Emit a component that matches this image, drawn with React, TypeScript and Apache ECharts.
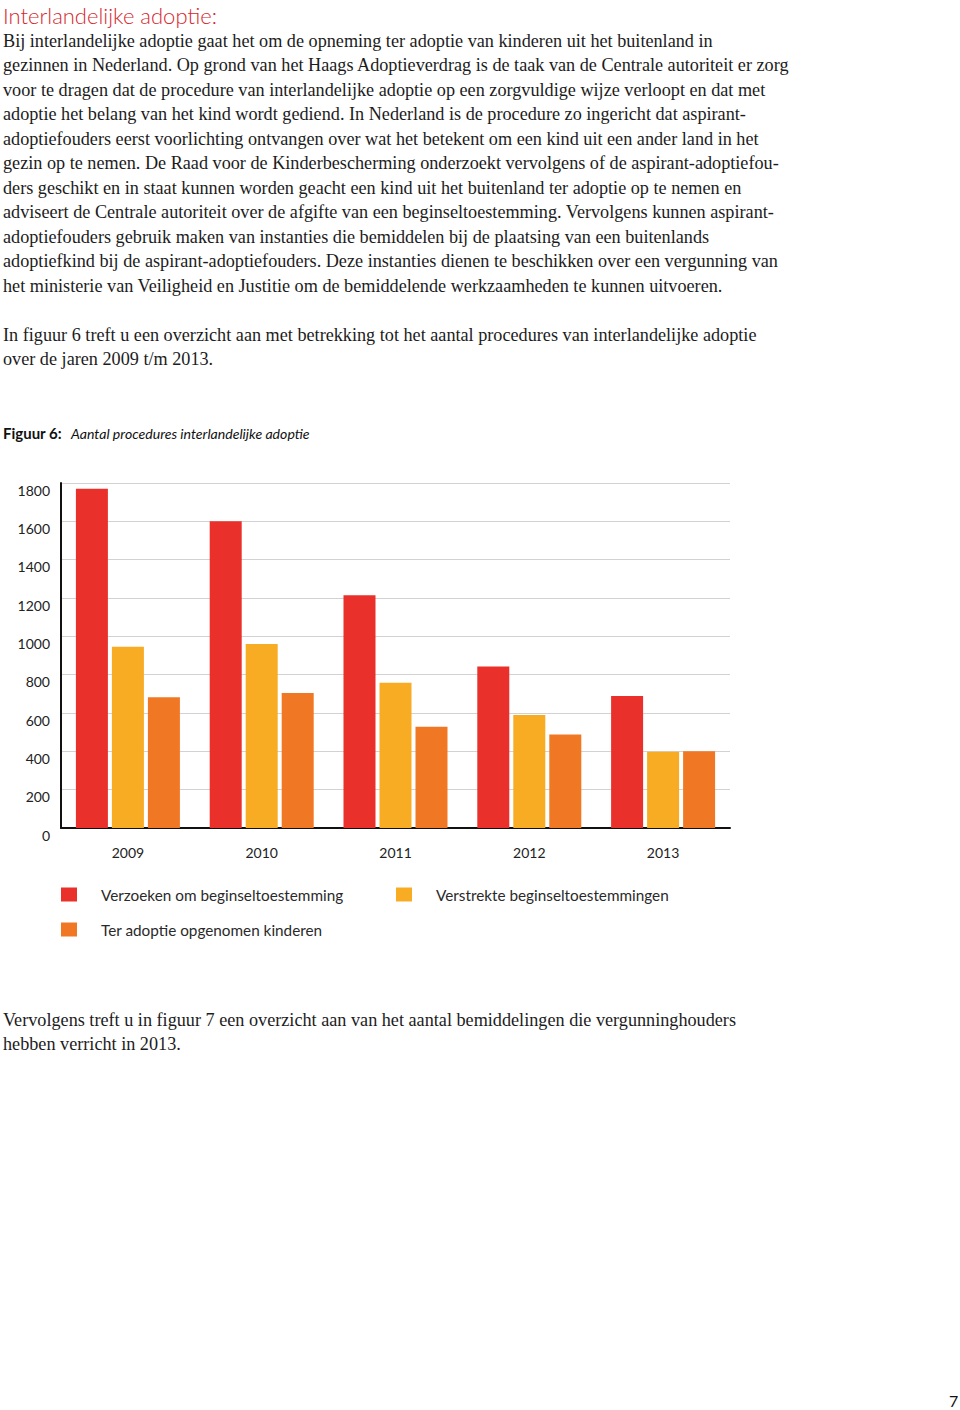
import React, { useEffect, useRef } from "react";
import * as echarts from "echarts";

const years = ["2009", "2010", "2011", "2012", "2013"];
const requests = [1770, 1600, 1215, 842, 689];
const granted = [946, 960, 758, 590, 398];
const adopted = [682, 705, 528, 488, 401];
const seriesNames = [
  "Verzoeken om beginseltoestemming",
  "Verstrekte beginseltoestemmingen",
  "Ter adoptie opgenomen kinderen",
];
const yTicks = [0, 200, 400, 600, 800, 1000, 1200, 1400, 1600, 1800];

const title = "Interlandelijke adoptie:";
const para1 = [
  "Bij interlandelijke adoptie gaat het om de opneming ter adoptie van kinderen uit het buitenland in",
  "gezinnen in Nederland. Op grond van het Haags Adoptieverdrag is de taak van de Centrale autoriteit er zorg",
  "voor te dragen dat de procedure van interlandelijke adoptie op een zorgvuldige wijze verloopt en dat met",
  "adoptie het belang van het kind wordt gediend. In Nederland is de procedure zo ingericht dat aspirant-",
  "adoptiefouders eerst voorlichting ontvangen over wat het betekent om een kind uit een ander land in het",
  "gezin op te nemen. De Raad voor de Kinderbescherming onderzoekt vervolgens of de aspirant-adoptiefou-",
  "ders geschikt en in staat kunnen worden geacht een kind uit het buitenland ter adoptie op te nemen en",
  "adviseert de Centrale autoriteit over de afgifte van een beginseltoestemming. Vervolgens kunnen aspirant-",
  "adoptiefouders gebruik maken van instanties die bemiddelen bij de plaatsing van een buitenlands",
  "adoptiefkind bij de aspirant-adoptiefouders. Deze instanties dienen te beschikken over een vergunning van",
  "het ministerie van Veiligheid en Justitie om de bemiddelende werkzaamheden te kunnen uitvoeren.",
];
const para2 = [
  "In figuur 6 treft u een overzicht aan met betrekking tot het aantal procedures van interlandelijke adoptie",
  "over de jaren 2009 t/m 2013.",
];
const para3 = [
  "Vervolgens treft u in figuur 7 een overzicht aan van het aantal bemiddelingen die vergunninghouders",
  "hebben verricht in 2013.",
];
const figLabel = "Figuur 6:";
const figCaption = "Aantal procedures interlandelijke adoptie";
const pageNumber = "7";

const RED = "#e9302a";
const YELLOW = "#f8ac24";
const ORANGE = "#f07724";
const SERIF = '"Liberation Serif", serif';
const SANS = 'Lato, "Noto Sans", sans-serif';

function textLines(lines: string[], x: number, y0: number, step: number, font: string) {
  return lines.map((t, i) => ({
    type: "text",
    x,
    y: y0 + i * step,
    silent: true,
    style: {
      text: t,
      font,
      fill: "#1c1c1c",
      textVerticalAlign: "middle",
      verticalAlign: "middle",
    },
  }));
}

export default function App() {
  const ref = useRef<HTMLDivElement>(null);
  useEffect(() => {
    if (!ref.current) return;
    const chart = echarts.init(ref.current, null, { renderer: "svg" });
    const bodyFont = `18.2px ${SERIF}`;
    const option: any = {
      animation: false,
      backgroundColor: "#ffffff",
      grid: { left: 61, right: 230, top: 483, bottom: 582, containLabel: false },
      xAxis: {
        type: "category",
        data: years,
        axisLine: { lineStyle: { color: "#111", width: 2 } },
        axisTick: { show: false },
        axisLabel: { color: "#222", fontFamily: SANS, fontSize: 14, margin: 17 },
      },
      yAxis: {
        type: "value",
        min: 0,
        max: 1800,
        interval: 200,
        axisLine: { show: true, lineStyle: { color: "#111", width: 2 } },
        axisTick: { show: false },
        splitLine: { lineStyle: { color: "#d2d2d2", width: 1 } },
        axisLabel: {
          color: "#222",
          fontFamily: SANS,
          fontSize: 14,
          margin: 11,
          verticalAlign: "top",
          lineHeight: 14,
          formatter: (v: number) => (yTicks.includes(v) ? String(v) : ""),
        },
      },
      legend: [0, 1, 2].map((i) => ({
        data: [seriesNames[i]],
        left: i === 1 ? 396 : 61,
        top: i === 2 ? 922 : 887,
        padding: 0,
        icon: "rect",
        itemWidth: 16,
        itemHeight: 14,
        selectedMode: false,
        textStyle: {
          color: "#2a2a2a",
          fontFamily: SANS,
          fontSize: 15.3,
          lineHeight: 14,
          padding: [0, 0, 0, 19],
        },
      })),
      series: [
        { name: seriesNames[0], data: requests, color: RED },
        { name: seriesNames[1], data: granted, color: YELLOW },
        { name: seriesNames[2], data: adopted, color: ORANGE },
      ].map((s) => ({
        type: "bar",
        name: s.name,
        data: s.data,
        barWidth: 32,
        barGap: "12.5%",
        itemStyle: { color: s.color },
        silent: true,
      })),
      graphic: [
        {
          type: "text",
          x: 3,
          y: 15,
          silent: true,
          style: {
            text: title,
            font: `300 22px ${SANS}`,
            fill: "#d6282e",
            textVerticalAlign: "middle",
            verticalAlign: "middle",
          },
        },
        ...textLines(para1, 3, 41, 24.45, bodyFont),
        ...textLines(para2, 3, 335, 24.45, bodyFont),
        ...textLines(para3, 3, 1020, 24.45, bodyFont),
        {
          type: "text",
          x: 3,
          y: 433,
          silent: true,
          style: {
            text: figLabel,
            font: `bold 15px ${SANS}`,
            fill: "#111",
            textVerticalAlign: "middle",
            verticalAlign: "middle",
          },
        },
        {
          type: "text",
          x: 71,
          y: 433,
          silent: true,
          style: {
            text: figCaption,
            font: `italic 14.1px ${SANS}`,
            fill: "#111",
            textVerticalAlign: "middle",
            verticalAlign: "middle",
          },
        },
        {
          type: "text",
          x: 949,
          y: 1400,
          silent: true,
          style: {
            text: pageNumber,
            font: `16px ${SANS}`,
            fill: "#111",
            textVerticalAlign: "middle",
            verticalAlign: "middle",
          },
        },
      ],
    };
    chart.setOption(option);
    return () => chart.dispose();
  }, []);
  return (
    <div
      ref={ref}
      style={{ position: "absolute", left: 0, top: 0, width: 960, height: 1410, background: "#fff" }}
    />
  );
}
